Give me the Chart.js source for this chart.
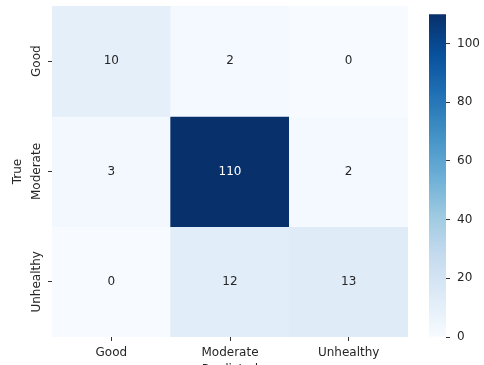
<!DOCTYPE html>
<html>
<head>
<meta charset="utf-8">
<script src="https://cdn.jsdelivr.net/npm/chart.js@4.4.1/dist/chart.umd.min.js"></script>
<style>
  html, body { margin:0; padding:0; background:#fff; width:484px; height:365px; overflow:hidden; }
  #main { position:absolute; left:0; top:0; width:420px; height:380px; }
  #cbar { position:absolute; left:410px; top:0; width:74px; height:380px; }
</style>
</head>
<body>
<div id="main"><canvas id="c1"></canvas></div>
<div id="cbar"><canvas id="c2"></canvas></div>
<script>
// ---- data ----
const predLabels = ['Good', 'Moderate', 'Unhealthy'];
const trueLabels = ['Good', 'Moderate', 'Unhealthy'];
const rowGood = [10, 2, 0];
const rowModerate = [3, 110, 2];
const rowUnhealthy = [0, 12, 13];
const colorbarTicks = [0, 20, 40, 60, 80, 100];
const vmin = 0, vmax = 110;

const rows = [rowGood, rowModerate, rowUnhealthy];

// Matplotlib "Blues" colormap stops
const blues = ['#f7fbff','#deebf7','#c6dbef','#9ecae1','#6baed6','#4292c6','#2171b5','#08519c','#08306b'];
function hex2rgb(h){ return [parseInt(h.slice(1,3),16),parseInt(h.slice(3,5),16),parseInt(h.slice(5,7),16)]; }
function bluesColor(v){
  let t = (v - vmin) / (vmax - vmin);
  t = Math.max(0, Math.min(1, t));
  const pos = t * (blues.length - 1);
  const i = Math.min(Math.floor(pos), blues.length - 2);
  const f = pos - i;
  const a = hex2rgb(blues[i]), b = hex2rgb(blues[i+1]);
  const c = a.map((x,k)=>Math.round(x + (b[k]-x)*f));
  return 'rgb(' + c.join(',') + ')';
}
function textColor(v){
  const t = (v - vmin) / (vmax - vmin);
  return t > 0.6 ? '#ffffff' : '#262626';
}

const FONT = "'DejaVu Sans', sans-serif";
const TXT = '#262626';

const datasets = rows.map((row, r) => ({
  label: trueLabels[r],
  data: row.map(() => [r, r + 1]),
  backgroundColor: row.map(v => bluesColor(v)),
  borderWidth: 0,
  grouped: false,
  barPercentage: 1,
  categoryPercentage: 1
}));

const annotPlugin = {
  id: 'annot',
  afterDatasetsDraw(chart) {
    const {ctx, scales} = chart;
    ctx.save();
    ctx.font = '12px ' + FONT;
    ctx.textAlign = 'center';
    ctx.textBaseline = 'middle';
    rows.forEach((row, r) => {
      row.forEach((v, c) => {
        const x = scales.x.getPixelForValue(c);
        const y = scales.y.getPixelForValue(r + 0.5);
        ctx.fillStyle = textColor(v);
        ctx.fillText(String(v), x, y);
      });
    });
    ctx.restore();
  }
};

new Chart(document.getElementById('c1'), {
  type: 'bar',
  data: { labels: predLabels, datasets },
  options: {
    responsive: true,
    maintainAspectRatio: false,
    animation: false,
    layout: { padding: { left: 0, right: 12, top: 6, bottom: 0 } },
    plugins: { legend: { display: false }, tooltip: { enabled: false } },
    scales: {
      x: {
        type: 'category',
        grid: { display: true, offset: false, drawOnChartArea: false, drawTicks: true, tickLength: 4, tickColor: '#333', tickWidth: 1 },
        border: { display: false },
        ticks: { color: TXT, font: { family: FONT, size: 12 }, padding: 5, maxRotation: 0, minRotation: 0 },
        title: { display: true, text: 'Predicted', color: TXT, font: { family: FONT, size: 12 }, padding: { top: 0, bottom: 3 } },
        afterFit(s) { s.height = 43; }
      },
      y: {
        type: 'linear',
        min: 0, max: 3,
        reverse: true,
        afterBuildTicks(s) { s.ticks = trueLabels.map((_, i) => ({ value: i + 0.5 })); },
        grid: { display: true, drawOnChartArea: false, drawTicks: true, tickLength: 4, tickColor: '#333', tickWidth: 1 },
        border: { display: false },
        ticks: {
          color: TXT, font: { family: FONT, size: 12 },
          minRotation: 90, maxRotation: 90,
          crossAlign: 'center',
          padding: -20,
          callback: (v) => trueLabels[Math.floor(v)]
        },
        title: { display: true, text: 'True', color: TXT, font: { family: FONT, size: 12 }, padding: { top: 11, bottom: 0 } },
        afterFit(s) { s.width = 52; }
      }
    }
  },
  plugins: [annotPlugin]
});

new Chart(document.getElementById('c2'), {
  type: 'bar',
  data: {
    labels: [''],
    datasets: [{
      data: [[vmin, vmax]],
      borderWidth: 0,
      barPercentage: 1,
      categoryPercentage: 1,
      backgroundColor(ctx) {
        const chart = ctx.chart;
        const area = chart.chartArea;
        if (!area) return blues[4];
        const y = chart.scales.y;
        const g = chart.ctx.createLinearGradient(0, y.getPixelForValue(vmin), 0, y.getPixelForValue(vmax));
        blues.forEach((c, i) => g.addColorStop(i / (blues.length - 1), c));
        return g;
      }
    }]
  },
  options: {
    responsive: true,
    maintainAspectRatio: false,
    animation: false,
    layout: { padding: { left: 19, right: 0, top: 6, bottom: 43 } },
    plugins: { legend: { display: false }, tooltip: { enabled: false } },
    scales: {
      x: { display: false },
      y: {
        position: 'right',
        min: vmin, max: vmax,
        afterBuildTicks(s) { s.ticks = colorbarTicks.map(v => ({ value: v })); },
        grid: { display: true, drawOnChartArea: false, drawTicks: true, tickLength: 4, tickColor: '#333', tickWidth: 1 },
        border: { display: false },
        ticks: { color: TXT, font: { family: FONT, size: 12 }, padding: 7 },
        afterFit(s) { s.width = 38; }
      }
    }
  }
});
</script>
</body>
</html>
